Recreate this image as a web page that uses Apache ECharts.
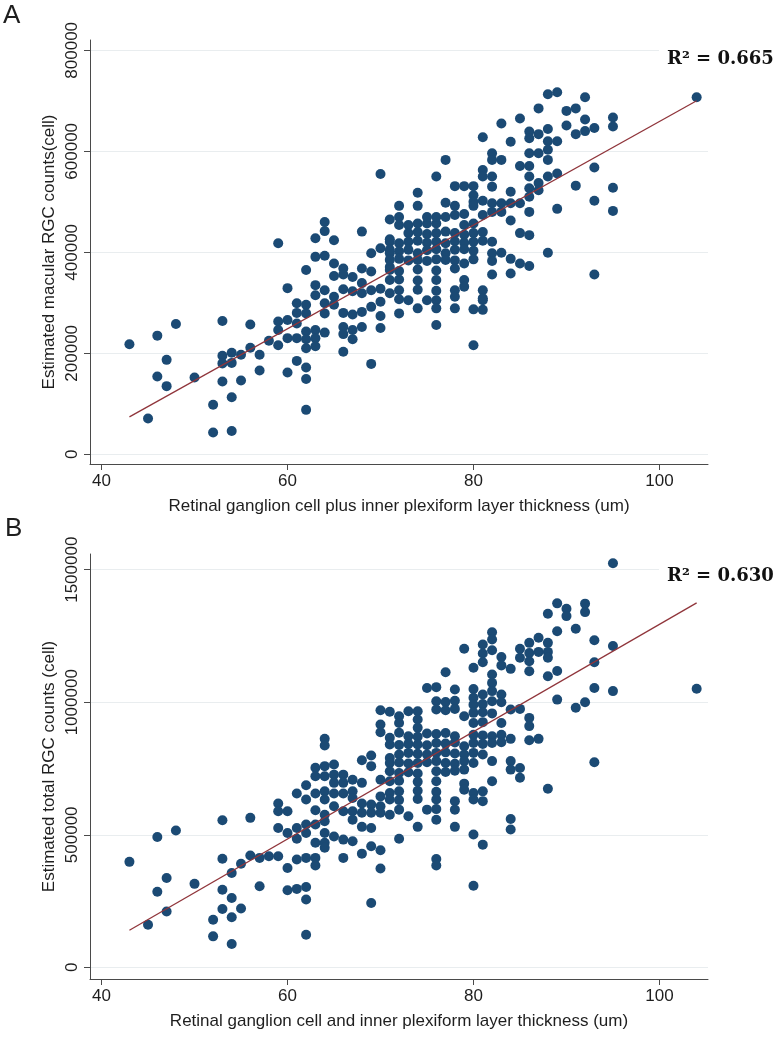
<!DOCTYPE html>
<html>
<head>
<meta charset="utf-8">
<script src="https://cdn.jsdelivr.net/npm/echarts@6/dist/echarts.min.js"></script>
<style>html,body{margin:0;padding:0;background:#fff}#chart{width:775px;height:1050px}</style>
</head>
<body>
<div id="chart"></div>
<script>
// ---------- data ----------
const xTicks = [40, 60, 80, 100];
const yTicksA = [0, 200000, 400000, 600000, 800000];
const yTicksB = [0, 500000, 1000000, 1500000];

const xTitleA = 'Retinal ganglion cell plus inner plexiform layer thickness (um)';
const xTitleB = 'Retinal ganglion cell and inner plexiform layer thickness (um)';
const yTitleA = 'Estimated macular RGC counts(cell)';
const yTitleB = 'Estimated total RGC counts (cell)';
const r2A = 'R\u00B2 = 0.665';
const r2B = 'R\u00B2 = 0.630';

// [GCIPL thickness (um), estimated macular RGC count]
const panelA = [
[43,218000],[45,71000],[46,235000],[46,154000],[47,187000],[47,135000],[48,258000],[50,152000],
[53,264000],[56,257000],[53,195000],[53,180000],[54,201000],[54,181000],[55,197000],[56,211000],
[57,197000],[53,144000],[55,146000],[57,166000],[54,113000],[52,98000],[52,43000],[54,46000],
[70,555000],[59,418000],[64,460000],[64,442000],[63,428000],[65,424000],[68,441000],[63,391000],
[64,393000],[65,378000],[62,365000],[66,368000],[65,353000],[66,356000],[67,351000],[68,368000],
[69,398000],[70,408000],[71,398000],[71,465000],[71,426000],[69,362000],[71,371000],[60,329000],
[63,335000],[63,315000],[64,325000],[65,312000],[66,327000],[67,323000],[68,339000],[68,319000],
[69,325000],[70,328000],[71,319000],[61,299000],[62,296000],[61,280000],[62,279000],[64,299000],
[64,279000],[65,296000],[66,280000],[67,277000],[68,282000],[60,266000],[59,263000],[59,246000],
[61,259000],[62,243000],[63,246000],[64,241000],[66,252000],[67,246000],[66,238000],[67,228000],
[68,252000],[70,274000],[70,250000],[60,230000],[61,230000],[62,228000],[63,230000],[62,210000],
[63,214000],[58,225000],[59,216000],[66,203000],[61,185000],[62,172000],[62,149000],[60,162000],
[69,179000],[62,88000],[70,302000],[69,292000],
[88,713000],[89,717000],[87,685000],[83,655000],[85,665000],[81,628000],[86,639000],[86,626000],
[87,634000],[88,644000],[89,620000],[84,619000],[88,620000],[86,596000],[87,596000],[88,603000],
[82,596000],[82,583000],[83,583000],[77,583000],[85,571000],[86,571000],[88,583000],[81,563000],
[81,550000],[82,550000],[82,530000],[76,550000],[78,531000],[79,531000],[80,531000],[80,513000],
[80,500000],[86,550000],[86,527000],[87,537000],[88,550000],[89,556000],[84,520000],[86,510000],
[89,486000],[74,518000],[72,492000],[74,492000],[77,498000],[78,492000],[79,476000],[80,492000],
[81,502000],[82,497000],[83,497000],[84,497000],[85,497000],[82,480000],[83,480000],[84,463000],
[86,480000],[81,474000],[80,457000],[72,470000],[72,454000],[73,454000],[74,457000],[75,457000],
[76,457000],[75,470000],[76,470000],[77,470000],[78,474000],[79,454000],
[73,438000],[74,440000],[75,436000],[76,438000],[77,441000],[78,438000],[79,435000],[80,438000],
[81,440000],[82,421000],[85,438000],[86,434000],
[71,421000],[72,418000],[73,421000],[74,423000],[75,419000],[76,421000],[77,418000],[78,422000],
[79,419000],[80,421000],[81,423000],
[71,405000],[72,402000],[73,405000],[74,398000],[75,404000],[76,406000],[77,398000],[78,405000],
[79,406000],[80,403000],[82,398000],[83,399000],[88,399000],
[71,385000],[72,387000],[73,384000],[74,385000],[75,383000],[76,386000],[77,385000],[78,384000],
[79,378000],[80,386000],[82,383000],[84,387000],[85,378000],[86,373000],
[71,365000],[72,363000],[74,366000],[76,364000],[78,368000],[84,358000],[82,356000],
[71,345000],[72,346000],[74,344000],[76,345000],[79,345000],
[72,325000],[74,326000],[76,324000],[78,325000],[79,332000],[81,325000],
[78,312000],[72,307000],[73,305000],[75,305000],[76,305000],[76,289000],[74,289000],[78,289000],
[80,287000],[81,286000],[81,305000],[72,279000],[76,256000],[80,216000],
[92,707000],[90,680000],[91,685000],[92,663000],[95,667000],[95,649000],[93,646000],[90,651000],
[91,634000],[92,640000],[93,568000],[91,532000],[95,528000],[93,502000],[95,482000],[93,356000],
[104,707000],[87,523000],[81,309000]
];

// [GCIPL thickness (um), estimated total RGC count]
const panelB = [
[43,398000],[45,161000],[46,492000],[46,285000],[47,337000],[47,211000],[48,516000],[50,315000],
[53,555000],[56,564000],[53,410000],[53,293000],[53,220000],[52,180000],[52,117000],[54,356000],
[54,262000],[54,189000],[54,88000],[55,391000],[55,222000],[56,422000],[57,413000],[57,306000],
[70,970000],[71,964000],[70,916000],[70,887000],[71,866000],[64,862000],[64,837000],[68,781000],
[69,799000],[69,759000],[71,790000],[63,753000],[64,759000],[65,765000],[63,721000],[64,721000],
[65,727000],[66,727000],[62,687000],[65,696000],[66,696000],[67,708000],[68,696000],[70,708000],
[61,656000],[62,633000],[63,656000],[64,664000],[64,633000],[65,656000],[66,656000],[67,664000],
[67,639000],[70,645000],[71,658000],[59,618000],[59,589000],[60,589000],[63,593000],[64,576000],
[65,608000],[66,589000],[67,589000],[68,618000],[69,614000],[70,608000],[67,557000],[68,583000],
[69,583000],[70,583000],[71,576000],[59,526000],[60,507000],[61,526000],[62,539000],[62,507000],
[63,539000],[64,551000],[64,507000],[64,470000],[64,451000],[65,494000],[66,482000],[67,476000],
[68,530000],[69,526000],[61,485000],[63,470000],[62,413000],[61,407000],[60,375000],[63,413000],
[63,384000],[58,419000],[59,419000],[66,413000],[68,429000],[69,457000],[70,442000],[70,373000],
[60,291000],[61,296000],[62,303000],[62,256000],[69,243000],[62,123000],[80,308000],
[89,1373000],[88,1334000],[89,1268000],[82,1264000],[82,1237000],[87,1243000],[86,1224000],[88,1224000],
[79,1202000],[81,1218000],[81,1184000],[82,1196000],[85,1202000],[85,1168000],[86,1186000],[86,1155000],
[87,1190000],[88,1190000],[88,1168000],[83,1171000],[83,1139000],[81,1151000],[80,1130000],[84,1126000],
[86,1117000],[89,1118000],[88,1098000],[77,1113000],[82,1105000],[82,1073000],[82,1042000],[75,1054000],
[76,1057000],[78,1048000],[80,1050000],[80,1017000],[81,1029000],[83,1029000],[89,1010000],
[76,1004000],[77,1001000],[78,1006000],[80,991000],[81,993000],[82,1004000],[83,1000000],
[76,973000],[77,970000],[78,975000],[79,947000],[80,960000],[81,962000],[82,958000],[84,973000],[85,975000],
[72,947000],[73,966000],[74,966000],[74,935000],[72,922000],[74,904000],[80,922000],[81,925000],
[83,922000],[86,941000],[86,910000],
[72,885000],[73,872000],[74,870000],[75,882000],[76,880000],[77,884000],[78,872000],[80,877000],
[81,875000],[82,872000],[83,877000],[84,862000],[86,857000],[87,862000],
[71,841000],[72,839000],[73,843000],[74,841000],[75,838000],[76,846000],[77,844000],[78,848000],
[79,834000],[80,846000],[81,843000],[82,846000],[83,849000],
[72,803000],[73,809000],[74,806000],[75,803000],[76,809000],[77,811000],[78,807000],[79,803000],
[80,809000],[81,803000],
[71,771000],[72,773000],[73,769000],[74,771000],[75,774000],[76,778000],[77,771000],[78,768000],
[79,778000],[80,771000],[82,778000],[84,778000],[84,746000],[85,752000],[85,715000],
[71,740000],[72,733000],[73,736000],[74,731000],[76,740000],[77,737000],[78,742000],[79,746000],
[71,702000],[72,704000],[74,700000],[76,702000],[82,702000],[79,693000],
[72,664000],[74,666000],[76,662000],[79,670000],[80,658000],[81,664000],[88,674000],
[71,633000],[72,631000],[74,635000],[76,633000],[78,627000],[80,633000],[81,627000],
[72,595000],[75,595000],[76,597000],[78,595000],[73,570000],[76,557000],[84,560000],[84,520000],
[74,530000],[78,530000],[80,501000],[81,463000],[72,485000],[76,409000],[76,384000],
[95,1524000],[90,1353000],[90,1325000],[92,1372000],[92,1340000],[91,1277000],[93,1234000],[95,1212000],
[93,1151000],[93,1054000],[95,1042000],[104,1051000],[91,979000],[92,1000000],[93,774000]
];

// fitted regression lines (end points of drawn line)
const fitA = [[43, 74000], [104, 700000]];
const fitB = [[43, 140000], [104, 1375000]];

// ---------- chart ----------
const FONT = '"Liberation Sans", Arial, Helvetica, sans-serif';
const TXT = '#1e1e1e';
const AXC = '#4a4a4a';
const DOT = '#1b4a74';
const LINEC = '#90353b';
const GRIDC = '#e9edef';

function xAx(gi, name) {
  return {
    type: 'value', gridIndex: gi, min: 38.76, max: 105.22,
    name: name, nameLocation: 'middle', nameGap: 34, nameMoveOverlap: false,
    nameTextStyle: { fontFamily: FONT, fontSize: 17, color: TXT },
    axisLine: { show: true, onZero: false, lineStyle: { color: AXC, width: 1 } },
    axisTick: { show: true, length: 6, customValues: xTicks, lineStyle: { color: AXC, width: 1 } },
    axisLabel: { show: true, customValues: xTicks, fontFamily: FONT, fontSize: 17, color: TXT, margin: 9,
                 formatter: v => String(v) },
    splitLine: { show: false }
  };
}
function yAx(gi, name, min, max, ticks) {
  return {
    type: 'value', gridIndex: gi, min: min, max: max,
    name: name, nameLocation: 'middle', nameGap: 32, nameMoveOverlap: false,
    nameTextStyle: { fontFamily: FONT, fontSize: 17, color: TXT },
    axisLine: { show: true, onZero: false, lineStyle: { color: AXC, width: 1 } },
    axisTick: { show: true, length: 6, customValues: ticks, lineStyle: { color: AXC, width: 1 } },
    axisLabel: { show: true, customValues: ticks, rotate: 90, fontFamily: FONT, fontSize: 17, color: TXT,
                 margin: 9, formatter: v => String(v) },
    splitLine: { show: true, lineStyle: { color: GRIDC, width: 1 } }
  };
}

const chart = echarts.init(document.getElementById('chart'), null, { renderer: 'canvas' });
chart.setOption({
  animation: false,
  backgroundColor: '#ffffff',
  grid: [
    { left: 90, top: 40, width: 618, height: 424 },
    { left: 90, top: 554, width: 618, height: 425 }
  ],
  xAxis: [xAx(0, xTitleA), xAx(1, xTitleB)],
  yAxis: [
    yAx(0, yTitleA, -19200, 820400, yTicksA),
    yAx(1, yTitleB, -43800, 1559200, yTicksB)
  ],
  series: [
    { type: 'scatter', xAxisIndex: 0, yAxisIndex: 0, data: panelA, symbol: 'circle', symbolSize: 10,
      itemStyle: { color: DOT, opacity: 1 }, z: 2 },
    { type: 'line', xAxisIndex: 0, yAxisIndex: 0, data: fitA, symbol: 'none',
      lineStyle: { color: LINEC, width: 1.3 }, z: 3 },
    { type: 'scatter', xAxisIndex: 1, yAxisIndex: 1, data: panelB, symbol: 'circle', symbolSize: 10,
      itemStyle: { color: DOT, opacity: 1 }, z: 2 },
    { type: 'line', xAxisIndex: 1, yAxisIndex: 1, data: fitB, symbol: 'none',
      lineStyle: { color: LINEC, width: 1.3 }, z: 3 }
  ],
  graphic: [
    { type: 'text', left: 3, top: 3, style: { text: 'A', fontFamily: FONT, fontSize: 26, fill: TXT } },
    { type: 'text', left: 5, top: 516, style: { text: 'B', fontFamily: FONT, fontSize: 26, fill: TXT } },
    { type: 'rect', left: 659, top: 44, shape: { width: 116, height: 30 }, style: { fill: '#fff' }, z: 10 },
    { type: 'text', left: 667, top: 50, z: 11,
      style: { text: r2A, fontFamily: '"DejaVu Serif", serif', fontWeight: 'bold', fontSize: 18, fill: '#111' } },
    { type: 'rect', left: 659, top: 562, shape: { width: 116, height: 30 }, style: { fill: '#fff' }, z: 10 },
    { type: 'text', left: 667, top: 567, z: 11,
      style: { text: r2B, fontFamily: '"DejaVu Serif", serif', fontWeight: 'bold', fontSize: 18, fill: '#111' } }
  ]
});
</script>
</body>
</html>
